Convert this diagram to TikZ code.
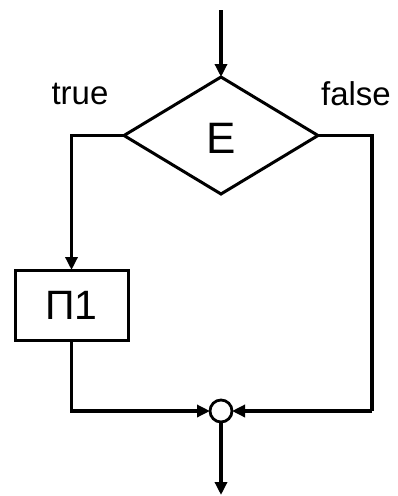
\documentclass[tikz,border=0pt]{standalone}
\usepackage{fontspec}
\setmainfont{Liberation Sans}
\usetikzlibrary{shapes.geometric,arrows.meta}
\begin{document}
\begin{tikzpicture}[x=1pt,y=-1pt,
  ln/.style={line width=3.3pt},
  arr/.style={ln,-{Triangle[length=13pt,width=12pt]}},
  lbl/.style={font=\fontsize{33}{35}\selectfont,inner sep=0pt}]
\useasboundingbox[fill=white] (0,0) rectangle (397,496);
\node[diamond,draw,line width=3pt,minimum width=194pt,minimum height=117pt,aspect=1.66,inner sep=0pt,outer sep=0pt] (d) at (221,135.5) {};
\node[font=\fontsize{44}{46}\selectfont,inner sep=0pt] (e) at (221,138) {E};
\node[lbl] (t) at (80,94) {true};
\node[lbl] (f) at (356,94) {false};
\node[draw,line width=3pt,minimum width=113pt,minimum height=70pt,inner sep=0pt,outer sep=0pt,font=\fontsize{41}{43}\selectfont] (p) at (71.5,305) {П1};
\node[circle,draw,line width=2.8pt,minimum size=22pt,inner sep=0pt,outer sep=0pt] (c) at (221,411) {};
\coordinate (in) at (221,10);
\coordinate (rc) at (372,411);
\coordinate (lc) at (70,411);
\coordinate (out) at (221,495);
\draw[arr] (in) -- (d.north);
\draw[arr] (d.west) -| (p.north);
\draw[ln] (d.east) -| (rc);
\draw[arr] (rc) -- (c.east);
\draw[arr] (p.south) |- (c.west);
\draw[arr] (c.south) -- (out);
\end{tikzpicture}
\end{document}
